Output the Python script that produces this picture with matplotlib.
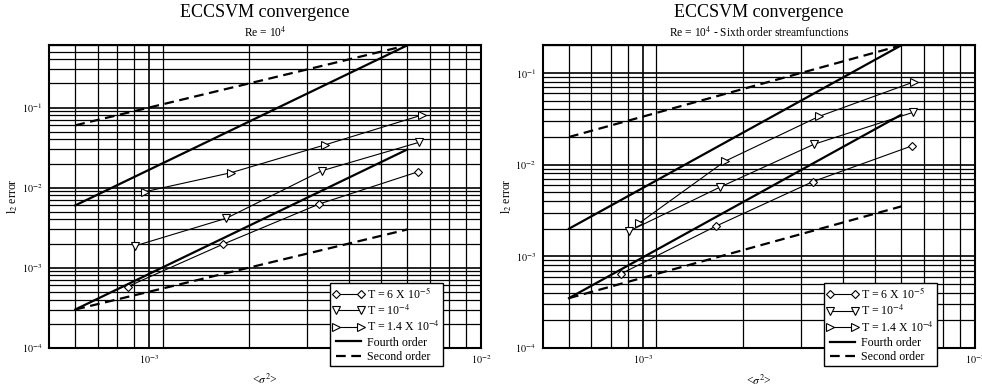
import numpy as np
import matplotlib
matplotlib.use("Agg")
import matplotlib.pyplot as plt
from matplotlib.ticker import FixedLocator, FixedFormatter, NullFormatter
from matplotlib.lines import Line2D

plt.rcParams['font.family'] = ['Liberation Serif', 'DejaVu Serif']
plt.rcParams['mathtext.fontset'] = 'stix'
plt.rcParams['lines.scale_dashes'] = False

# ---------------- data ----------------
title = "ECCSVM convergence"
subtitles = [r"Re = 10$^{4}$", r"Re = 10$^{4}$ - Sixth order streamfunctions"]
series_labels = [r"T = 6 X 10$^{-5}$", r"T = 10$^{-4}$", r"T = 1.4 X 10$^{-4}$"]
ref_labels = ["Fourth order", "Second order"]

# left panel (Re = 1e4)
L_x_T1 = [8.63e-4, 1.67e-3, 3.26e-3, 6.47e-3]
L_y_T1 = [5.8e-4, 1.96e-3, 6.25e-3, 1.58e-2]
L_x_T2 = [9.08e-4, 1.71e-3, 3.31e-3, 6.52e-3]
L_y_T2 = [1.87e-3, 4.14e-3, 1.62e-2, 3.69e-2]
L_x_T3 = [9.73e-4, 1.77e-3, 3.39e-3, 6.62e-3]
L_y_T3 = [8.9e-3, 1.54e-2, 3.42e-2, 8.04e-2]
L_ref_x = [6e-4, 6e-3]
L_fourth_hi = [6e-3, 0.6]
L_fourth_lo = [3e-4, 3e-2]
L_second_hi = [6e-2, 0.6]
L_second_lo = [3e-4, 3e-3]

# right panel (sixth order streamfunctions)
R_x_T1 = [8.6e-4, 1.66e-3, 3.25e-3, 6.46e-3]
R_y_T1 = [6.44e-4, 2.13e-3, 6.52e-3, 1.6e-2]
R_x_T2 = [9.1e-4, 1.71e-3, 3.28e-3, 6.49e-3]
R_y_T2 = [1.88e-3, 5.69e-3, 1.67e-2, 3.7e-2]
R_x_T3 = [9.73e-4, 1.77e-3, 3.39e-3, 6.56e-3]
R_y_T3 = [2.28e-3, 1.09e-2, 3.35e-2, 8.0e-2]
R_ref_x = [6e-4, 6e-3]
R_fourth_hi = [2e-3, 0.2]
R_fourth_lo = [3.5e-4, 3.5e-2]
R_second_hi = [2e-2, 0.2]
R_second_lo = [3.5e-4, 3.5e-3]

x_major = [1e-3, 1e-2]
x_major_labels = [r"$10^{-3}$", r"$10^{-2}$"]
x_minor = [6e-4, 7e-4, 8e-4, 9e-4, 1.1e-3, 2e-3, 3e-3, 4e-3, 5e-3, 6e-3, 7e-3, 8e-3, 9e-3]
y_major = [1e-4, 1e-3, 1e-2, 1e-1]
y_major_labels = [r"$10^{-4}$", r"$10^{-3}$", r"$10^{-2}$", r"$10^{-1}$"]

# ---------------- figure ----------------
fig = plt.figure(figsize=(9.82, 3.92), dpi=100)
ax1 = fig.add_axes([49/982, 1-347.7/392, 432/982, 302.4/392])
ax2 = fig.add_axes([542.7/982, 1-348.0/392, 432.3/982, 302.7/392])

def style_axes(ax, ytop):
    ax.set_xscale('log')
    ax.set_yscale('log')
    ax.set_xlim(5e-4, 1e-2)
    ax.set_ylim(1e-4, ytop)
    ax.xaxis.set_major_locator(FixedLocator(x_major))
    ax.xaxis.set_major_formatter(FixedFormatter(x_major_labels))
    ax.xaxis.set_minor_locator(FixedLocator(x_minor))
    ax.xaxis.set_minor_formatter(NullFormatter())
    ax.yaxis.set_major_locator(FixedLocator(y_major))
    ax.yaxis.set_major_formatter(FixedFormatter(y_major_labels))
    ax.yaxis.set_minor_locator(FixedLocator(
        [m * 10.0**e for e in range(-4, 0) for m in range(2, 10)]))
    ax.yaxis.set_minor_formatter(NullFormatter())
    ax.grid(True, which='major', color='black', lw=1.2)
    ax.grid(True, which='minor', color='black', lw=0.9)
    ax.tick_params(which='both', length=0, labelsize=7.3)
    ax.tick_params(axis='y', pad=5)
    ax.tick_params(axis='x', pad=4)
    for s in ax.spines.values():
        s.set_linewidth(1.5)
    ax.set_xlabel(r"<$\sigma^2$>", fontsize=8.5, labelpad=5)
    ax.set_ylabel(r"l$_2$ error", fontsize=8.5, labelpad=1)
    ax.set_axisbelow(True)

def draw(ax, xs, ys, refx, f_hi, f_lo, s_hi, s_lo, ytop):
    style_axes(ax, ytop)
    markers = ['D', 'v', '>']
    sizes = [4.2, 5.3, 5.3]
    handles = []
    for (x, y), m, ms, lab in zip(zip(xs, ys), markers, sizes, series_labels):
        h, = ax.plot(x, y, color='black', lw=0.8, marker=m, ms=ms,
                     mfc='white', mec='black', mew=0.8, label=lab)
        handles.append(h)
    ax.plot(refx, f_hi, color='black', lw=1.6)
    ax.plot(refx, f_lo, color='black', lw=1.6)
    ax.plot(refx, s_hi, color='black', lw=1.6, dashes=(7, 4))
    ax.plot(refx, s_lo, color='black', lw=1.6, dashes=(7, 4))
    h4 = Line2D([], [], color='black', lw=1.6)
    h2 = Line2D([], [], color='black', lw=1.6, dashes=(7, 4))
    leg = ax.legend(handles + [h4, h2], series_labels + ref_labels,
                    loc='lower left', bbox_to_anchor=(0.650, -0.0605),
                    borderaxespad=0, numpoints=2, fontsize=8.6,
                    handlelength=2.7, handletextpad=0.2, borderpad=0.25,
                    labelspacing=0.2, fancybox=False, framealpha=1,
                    edgecolor='black')
    leg.get_frame().set_linewidth(1.0)
    leg.set_zorder(10)

draw(ax1, [L_x_T1, L_x_T2, L_x_T3], [L_y_T1, L_y_T2, L_y_T3], L_ref_x,
     L_fourth_hi, L_fourth_lo, L_second_hi, L_second_lo, 0.6)
draw(ax2, [R_x_T1, R_x_T2, R_x_T3], [R_y_T1, R_y_T2, R_y_T3], R_ref_x,
     R_fourth_hi, R_fourth_lo, R_second_hi, R_second_lo, 0.2)

for cx, sub in zip([265/982, 758.9/982], subtitles):
    fig.text(cx, 1-16.7/392, title, ha='center', va='baseline', fontsize=13)
    fig.text(cx, 1-37.3/392, sub, ha='center', va='baseline', fontsize=8.3)

fig.savefig("out.png", dpi=100)
